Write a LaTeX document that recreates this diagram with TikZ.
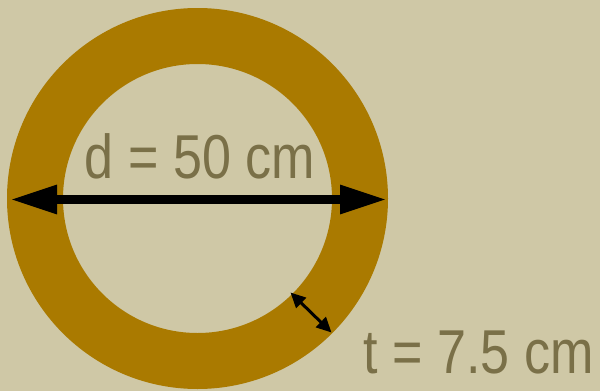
\documentclass[tikz,border=0pt]{standalone}
\usepackage{fontspec}
\usepackage{tikz}
\usetikzlibrary{arrows.meta}
\newfontfamily\labelfont[FakeStretch=0.84]{Liberation Sans}
\definecolor{paper}{RGB}{207,200,166}
\definecolor{ringbrown}{RGB}{170,122,0}
\definecolor{labelgrey}{RGB}{122,112,72}

\begin{document}
\begin{tikzpicture}[x=1pt,y=-1pt,
  dimtext/.style={text=labelgrey,anchor=base,inner sep=0pt,font=\labelfont\fontsize{62}{62}\selectfont}]
\fill[paper](0,0)rectangle(600,391);
\useasboundingbox(0,0)rectangle(600,391);
\fill[ringbrown,even odd rule](197.5,198.5)circle[radius=190.5pt]circle[radius=134.5pt];
\coordinate (dL) at (10,199.5);
\coordinate (dR) at (387,199.5);
\coordinate (tIn) at (290.5,292.5);
\coordinate (tOut) at (331.5,332.5);
\draw[line width=9pt,{Triangle[length=47pt,width=27pt]}-{Triangle[length=47pt,width=27pt]}](dL)--(dR);
\draw[line width=3pt,{Triangle[length=15pt,width=14pt]}-{Triangle[length=15pt,width=14pt]}](tIn)--(tOut);
\node[dimtext] (dlabel) at (200,178) {d = 50 cm};
\node[dimtext] (tlabel) at (478.5,373) {t = 7.5 cm};
\end{tikzpicture}
\end{document}
